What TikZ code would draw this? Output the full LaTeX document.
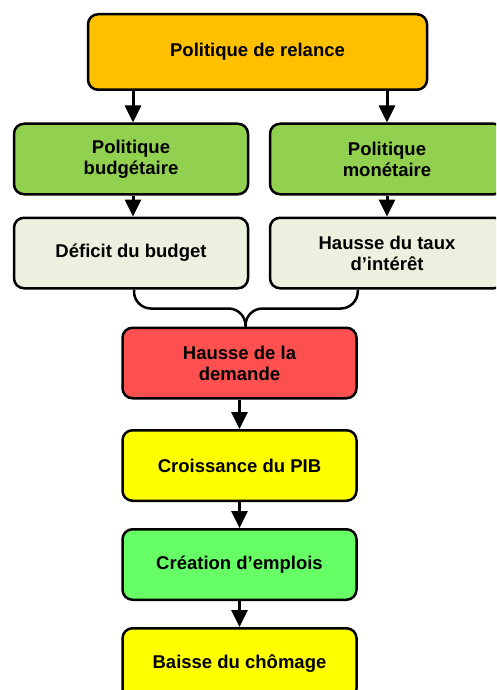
\documentclass[tikz,border=0pt]{standalone}
\usepackage{fontspec}
\setmainfont{Liberation Sans}
\usetikzlibrary{arrows.meta}
\definecolor{cRelance}{RGB}{255,192,0}
\definecolor{cPolitique}{RGB}{146,208,80}
\definecolor{cPale}{RGB}{235,241,222}
\definecolor{cRouge}{RGB}{255,80,80}
\definecolor{cJaune}{RGB}{255,255,0}
\definecolor{cVert}{RGB}{102,255,102}

\begin{document}
\begin{tikzpicture}[x=1pt,y=-1pt,
  box/.style={draw=black,line width=2.5pt,rounded corners=10pt,align=center,
    font=\fontsize{18.5}{21}\selectfont\bfseries,inner sep=0pt,
    minimum width=234pt,minimum height=70.5pt},
  arr/.style={line width=3pt,-{Triangle[width=16pt,length=17pt]}},
  brace/.style={line width=2.5pt,rounded corners=17pt}]
\useasboundingbox (0,0) rectangle (496,690);
\clip (0,0) rectangle (496,690);
\node[box,fill=cRelance,minimum width=339pt,minimum height=75.5pt] (relance) at (257.5,52) {Politique de relance};
\node[box,fill=cPolitique] (budg) at (131,159) {Politique\\budgétaire};
\node[box,fill=cPolitique] (mone) at (387,159) {Politique\\monétaire};
\node[box,fill=cPale] (deficit) at (131,253) {Déficit du budget};
\node[box,fill=cPale] (taux) at (387,253) {Hausse du taux\\d’intérêt};
\node[box,fill=cRouge] (demande) at (239.5,363) {Hausse de la\\demande};
\node[box,fill=cJaune] (pib) at (239.5,465.5) {Croissance du PIB};
\node[box,fill=cVert] (emploi) at (239.5,564.5) {Création d’emplois};
\node[box,fill=cJaune] (chomage) at (239.5,663.5) {Baisse du chômage};
\draw[arr] ([xshift=2pt]budg.north |- relance.south) -- ([xshift=2pt]budg.north);
\draw[arr] (mone.north |- relance.south) -- (mone);
\draw[arr] ([xshift=2pt]budg.south) -- ([xshift=2pt]deficit.north);
\draw[arr] (mone) -- (taux);
\coordinate (bl) at ([xshift=3pt]deficit.south);
\coordinate (br) at (demande.east |- taux.south);
\coordinate (cusp) at ([xshift=6pt]demande.north);
\draw[brace] (bl) |- ([yshift=18pt]cusp) -- (cusp);
\draw[brace] (br) |- ([yshift=18pt]cusp) -- (cusp);
\draw[arr] (demande) -- (pib);
\draw[arr] (pib) -- (emploi);
\draw[arr] (emploi) -- (chomage);
\end{tikzpicture}
\end{document}
